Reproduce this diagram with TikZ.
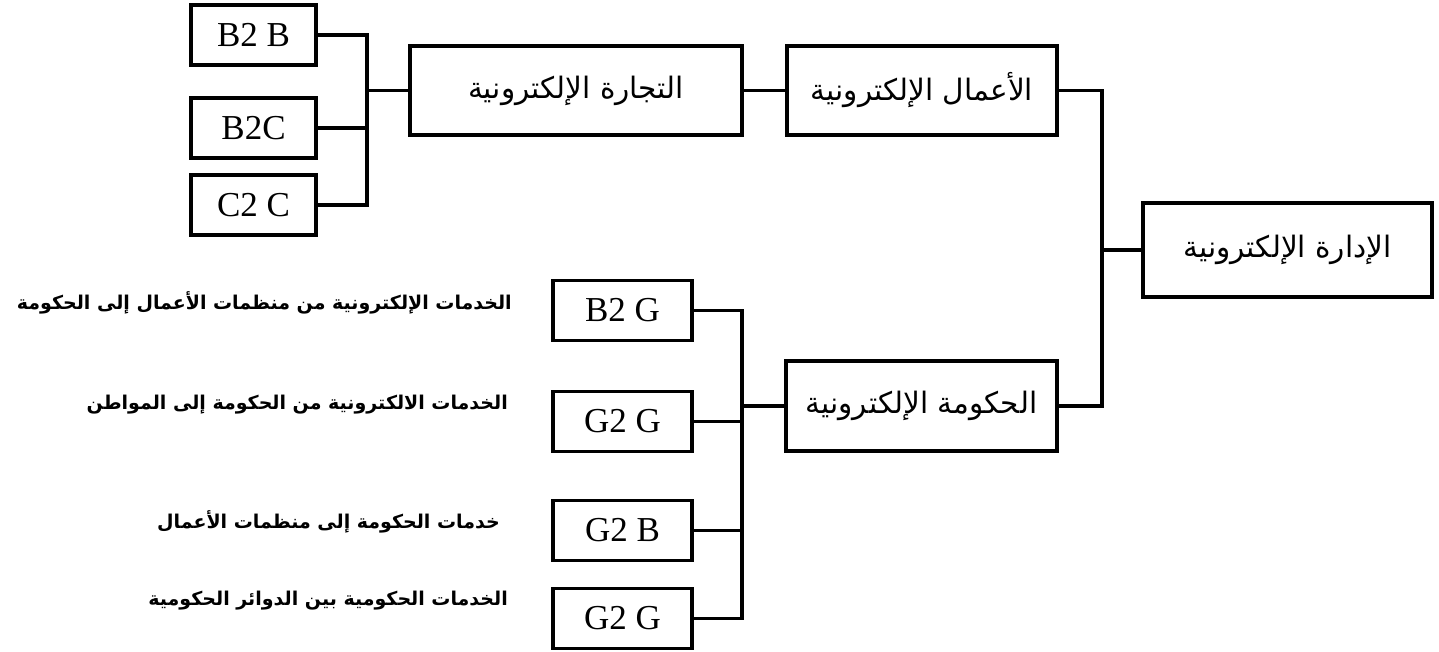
\documentclass[tikz,border=0pt]{standalone}
\usepackage{fontspec}
\setmainfont{Liberation Serif}
\newfontfamily\arabicfont[Script=Arabic]{DejaVu Sans}
\TeXXeTstate=1
\begin{document}
\begin{tikzpicture}[x=1pt, y=-1pt,
  box/.style={draw, line width=3.5pt, inner sep=0pt, minimum height=89pt,
    font=\arabicfont\fontsize{29.5}{33}\selectfont},
  smallbox/.style={draw, line width=3.5pt, inner sep=0pt, minimum width=125pt,
    minimum height=60pt, font=\fontsize{35}{38}\selectfont},
  gbox/.style={smallbox, minimum width=139pt},
  wire/.style={line width=3.5pt},
  gloss/.style={anchor=east, inner sep=0pt,
    font=\arabicfont\bfseries\fontsize{19}{22}\selectfont}]

  \useasboundingbox (0,0) rectangle (1439,652);

  % boxes
  \node [smallbox] (b2b) at (253.5, 35)  {B2 B};
  \node [smallbox] (b2c) at (253.5, 128) {B2C};
  \node [smallbox] (c2c) at (253.5, 205) {C2 C};

  \node [box, minimum width=332pt] (commerce) at (576, 90.5)
        {\beginR التجارة الإلكترونية\endR};
  \node [box, minimum width=270pt] (business) at (922, 90.5)
        {\beginR الأعمال الإلكترونية\endR};
  \node [box, minimum width=289pt, minimum height=94pt] (mgmt) at (1287.5, 250)
        {\beginR الإدارة الإلكترونية\endR};
  \node [box, minimum width=271pt, minimum height=90pt] (gov) at (921.5, 406)
        {\beginR الحكومة الإلكترونية\endR};

  \node [gbox] (b2g)  at (622.5, 310.5) {B2 G};
  \node [gbox] (g2g)  at (622.5, 421.5) {G2 G};
  \node [gbox] (g2b)  at (622.5, 530.5) {G2 B};
  \node [gbox] (g2gb) at (622.5, 618.5) {G2 G};

  % side notes
  \node [gloss] (nb2g)  at (512, 303)
        {\beginR الخدمات الإلكترونية من منظمات الأعمال إلى الحكومة\endR};
  \node [gloss] (ng2g)  at (508, 405)
        {\beginR الخدمات الالكترونية من الحكومة إلى المواطن\endR};
  \node [gloss] (ng2b)  at (500, 522)
        {\beginR خدمات الحكومة إلى منظمات الأعمال\endR};
  \node [gloss] (ng2gb) at (508, 601)
        {\beginR الخدمات الحكومية بين الدوائر الحكومية\endR};

  % bus junctions
  \coordinate (cbus) at (367, 92);
  \coordinate (gbus) at (742, 406);
  \coordinate (mbus) at (1102, 250);

  % commerce branch
  \draw [wire] (b2b.east) -| (cbus |- c2c.east) -- (c2c.east);
  \draw [wire] (b2c.east) -- (b2c.east -| cbus);
  \draw [wire] (cbus |- commerce.west) -- (commerce.west);
  \draw [wire] (commerce.east) -- (business.west);

  % government branch
  \draw [wire] (b2g.east) -| (gbus |- g2gb.east) -- (g2gb.east);
  \draw [wire] (g2g.east) -- (g2g.east -| gbus);
  \draw [wire] (g2b.east) -- (g2b.east -| gbus);
  \draw [wire] (gbus |- gov.west) -- (gov.west);

  % top level
  \draw [wire] (business.east) -| (mbus |- gov.east) -- (gov.east);
  \draw [wire] (mbus |- mgmt.west) -- (mgmt.west);

\end{tikzpicture}
\end{document}
